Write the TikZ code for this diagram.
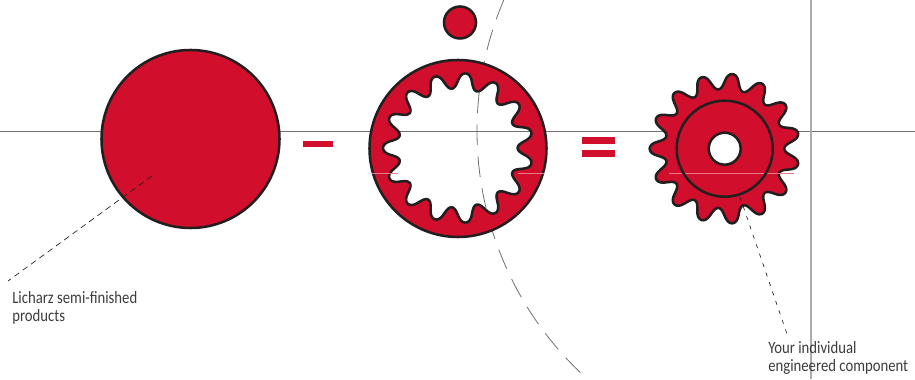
\documentclass[tikz,border=0pt]{standalone}
\usepackage{fontspec}
\usepackage{xcolor}
\usepackage{tikz}
\setmainfont[FakeStretch=0.85]{Carlito}
\definecolor{gearRed}{RGB}{209,15,44}
\definecolor{gearInk}{RGB}{35,31,32}
\definecolor{gearSeam}{RGB}{232,120,138}
\definecolor{axisGray}{RGB}{112,112,112}
\definecolor{axisLight}{RGB}{172,172,172}
\definecolor{noteGray}{RGB}{60,60,60}
% one wavy loop of 15 teeth round the point (#1,#2)
\newcommand{\teethloop}[2]{plot[domain=0:359,samples=360,variable=\t]
  ({#1+(67.3+7.7*cos(15*(\t-84)))*cos(\t+0.5*sin(30*(\t-84)))},
   {#2+(67.3+7.7*cos(15*(\t-84)))*sin(\t+0.5*sin(30*(\t-84)))}) -- cycle}

\begin{document}
\begin{tikzpicture}[
    x=0.75pt, y=0.75pt,
    disc/.style={circle, draw=gearInk, fill=gearRed, line width=1.9pt, inner sep=0pt},
    hub/.style={circle, draw=gearInk, line width=1.9pt, inner sep=0pt, minimum size=72pt},
    bore/.style={circle, draw=gearInk, fill=white, line width=1.9pt, inner sep=0pt, minimum size=24pt},
    bodyline/.style={draw=gearInk, fill=gearRed, line width=1.9pt, line join=round},
    seam/.style={draw=gearSeam, line width=0.4pt},
    bar/.style={fill=gearRed},
    leader/.style={draw=gearInk, line width=0.5pt},
    note/.style={font=\fontsize{13}{13.9}\selectfont, text=noteGray, align=left, anchor=north west, inner sep=0pt}
]
\useasboundingbox (0,0) rectangle (915,379);
\coordinate (axis) at (811,248);

% axes and the big dashed arc stay behind the parts
\draw[axisGray, line width=0.7pt] (0,248) -- (915,248);
\draw[axisLight, line width=1.4pt] (811,0) -- (811,379);
\draw[axisGray, line width=0.6pt, dash pattern=on 15.5pt off 8.5pt]
  (axis) ++(156.9:334) arc (156.9:226.5:334);

\node[disc, minimum size=133.5pt] (blank) at (190.5,240) {};
\node[disc, minimum size=24pt] (pin) at (460,356.5) {};

\draw[bodyline, even odd rule] (458,230.5) circle (88.5) \teethloop{458}{231};
\foreach \a/\b in {372/398,518/544} \draw[seam] (\a,206) -- (\b,206);

\draw[bodyline] \teethloop{724.7}{230.3};
\draw[seam] (669,206) -- (794,206);
\node[hub] (flange) at (724.7,230.3) {};
\node[bore] (hole) at (724.7,230.3) {};

% minus and equals
\fill[bar] (303,232) rectangle (333,238);
\foreach \y in {222,235} \fill[bar] (582,\y) rectangle (615,\y+7);

\coordinate (blankend) at (152,203);
\coordinate (blanknote) at (8,98);
\coordinate (gearend) at (740,182);
\coordinate (gearnote) at (788,42);
\draw[leader, dash pattern=on 4.5pt off 3.2pt] (blankend) -- (blanknote);
\draw[leader, dash pattern=on 3pt off 4.5pt] (gearend) -- (gearnote);

\node[note] (blanktext) at (12,88) {Licharz semi-finished\\products};
\node[note] (geartext) at (768,38) {Your individual\\engineered component};
\end{tikzpicture}
\end{document}
